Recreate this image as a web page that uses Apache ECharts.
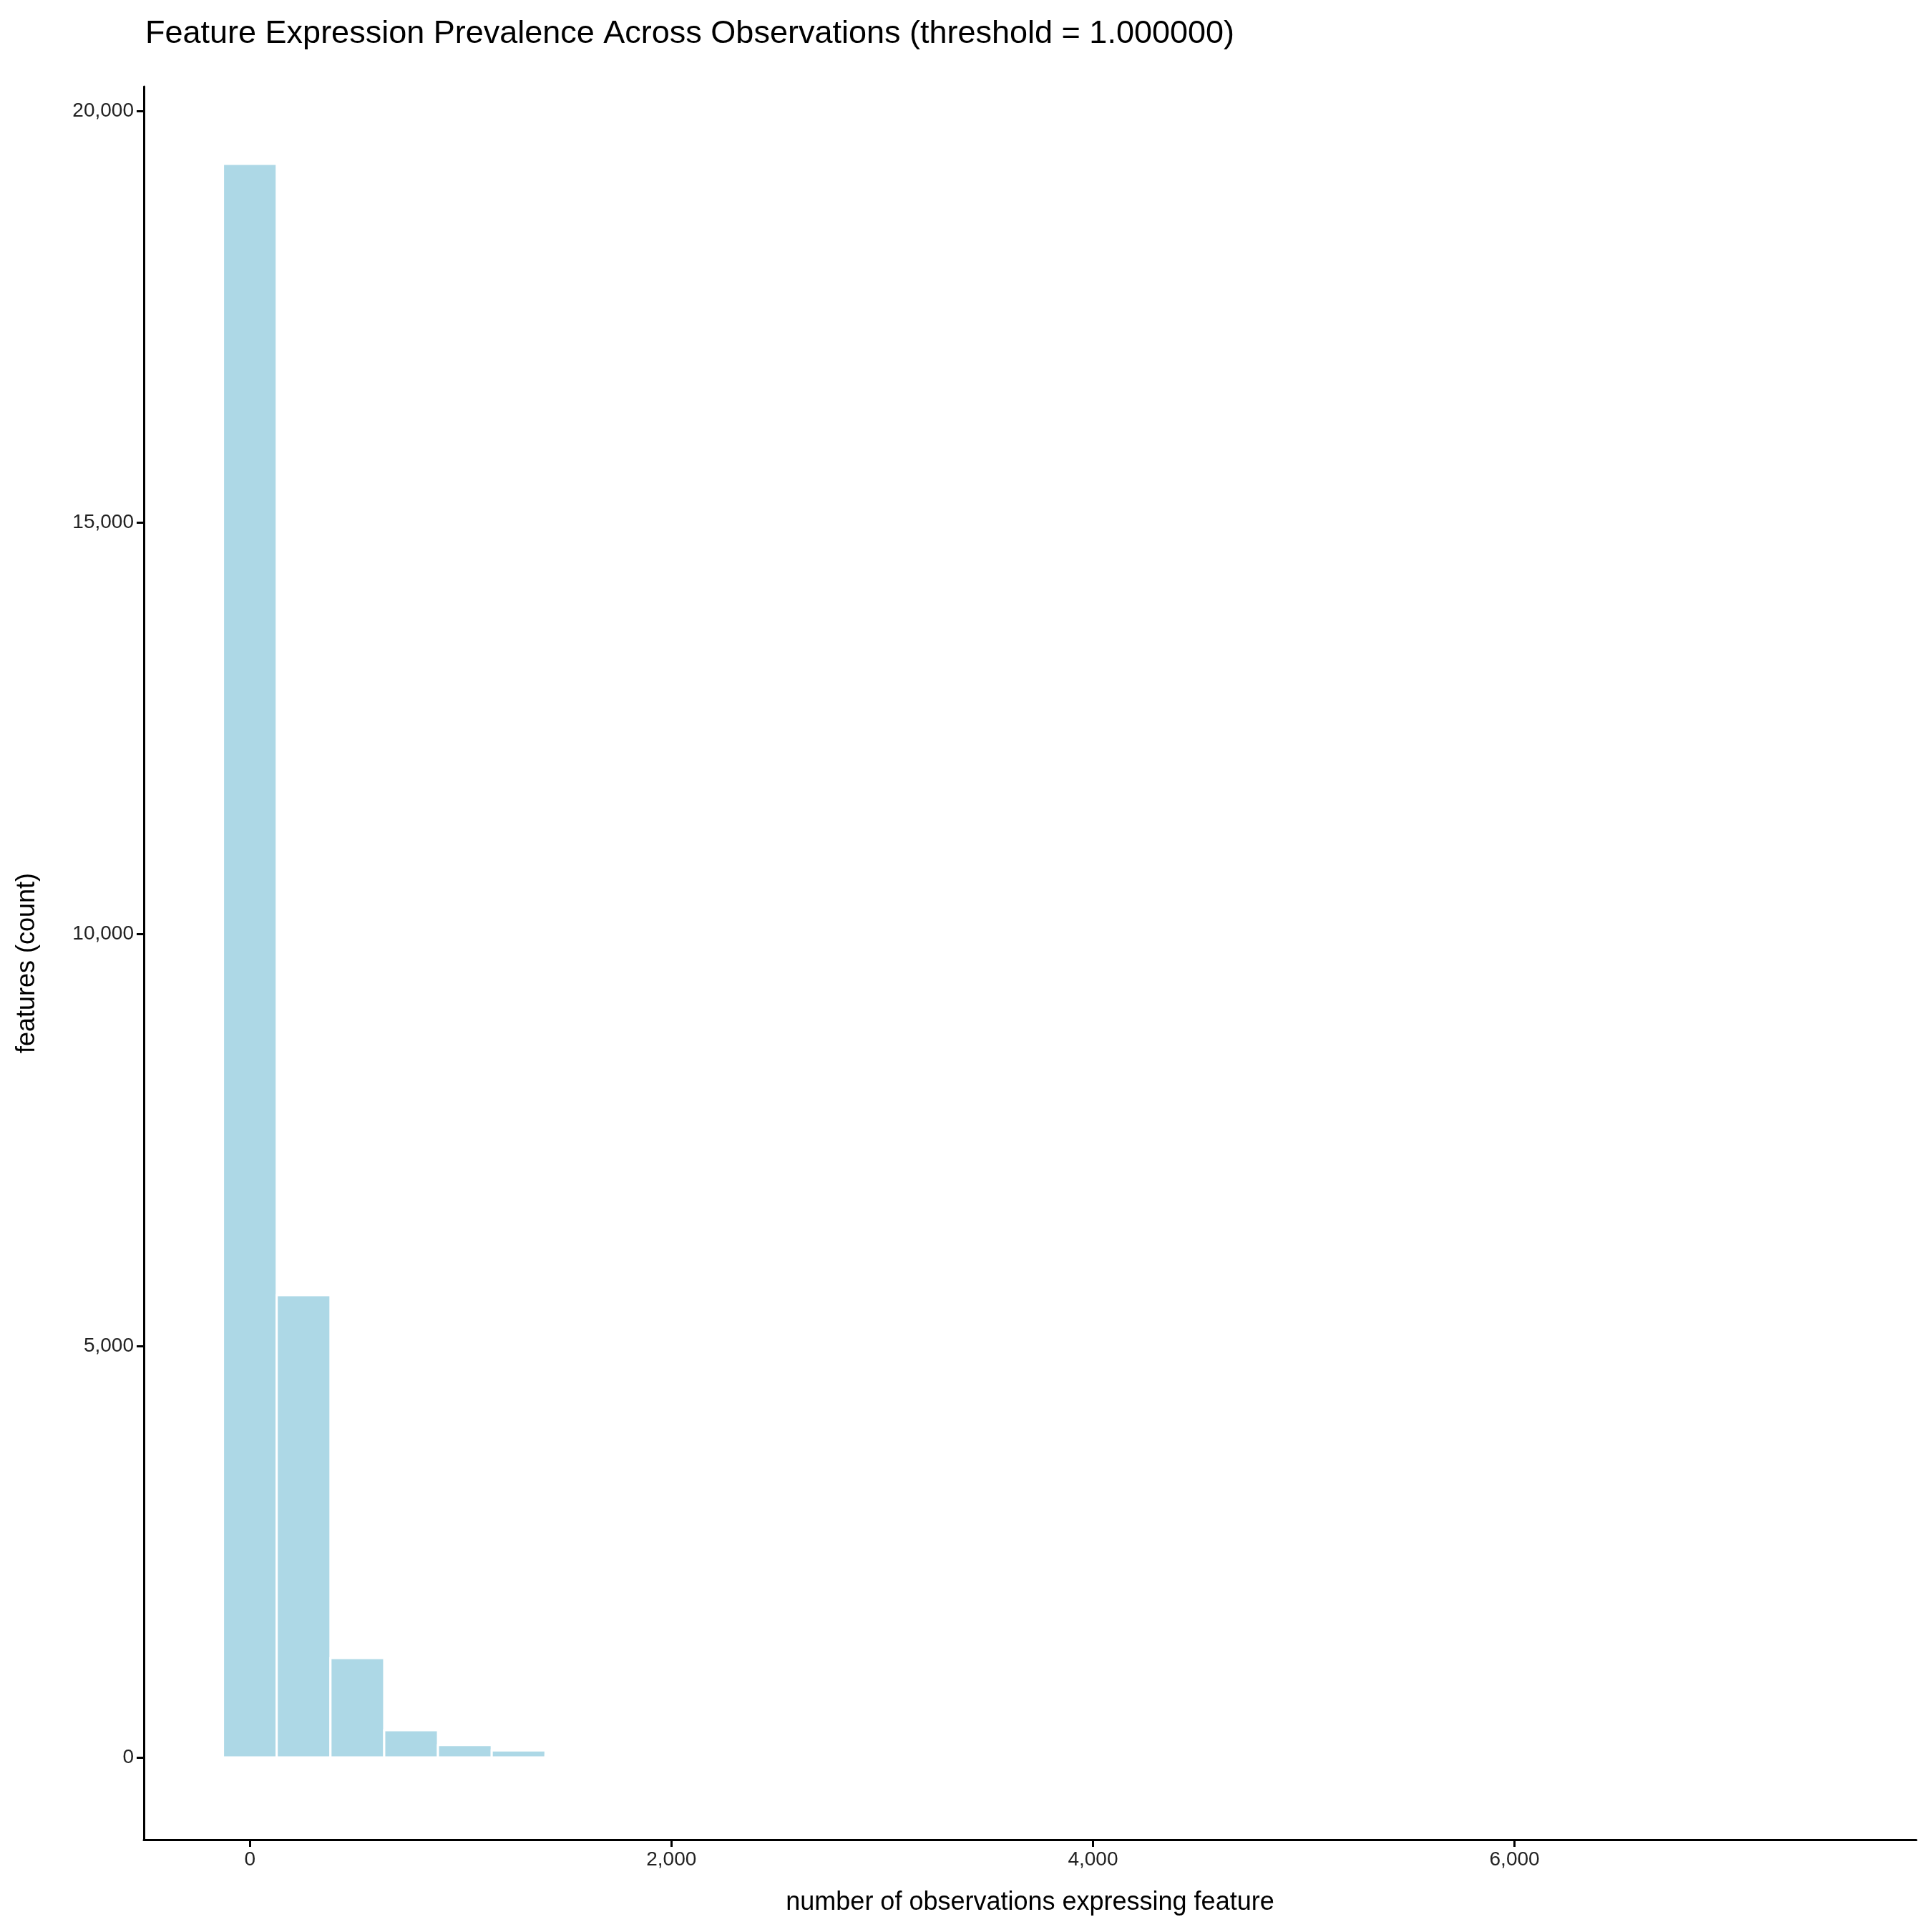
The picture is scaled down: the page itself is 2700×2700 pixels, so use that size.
<!DOCTYPE html>
<html>
<head>
<meta charset="utf-8">
<script src="https://cdn.jsdelivr.net/npm/echarts@6/dist/echarts.min.js"></script>
<style>
  html, body { margin: 0; padding: 0; background: #fff; }
  #chart { width: 2700px; height: 2700px; }
</style>
</head>
<body>
<div id="chart"></div>
<script>
// histogram bins: centers and counts (binwidth ~255)
const binWidth = 255;
const binCenters = [0, 255, 510, 765, 1020, 1275, 1530, 1785, 2040, 2295, 2550, 2805, 3060, 3315, 3570, 3825, 4080, 4335, 4590, 4845, 5100, 5355, 5610, 5865, 6120, 6375, 6630, 6885, 7140, 7395];
const binCounts = [19360, 5615, 1205, 330, 150, 85, 22, 8, 4, 3, 2, 1, 1, 0, 1, 0, 0, 0, 0, 0, 0, 0, 0, 0, 0, 0, 0, 0, 0, 1];
const xTicks = [0, 2000, 4000, 6000];
const yTicks = [0, 5000, 10000, 15000, 20000];

const font = 'Liberation Sans, Helvetica, Arial, sans-serif';
const chart = echarts.init(document.getElementById('chart'));

chart.setOption({
    animation: false,
    backgroundColor: '#ffffff',
    title: {
        text: 'Feature Expression Prevalence Across Observations (threshold = 1.000000)',
        left: 198,
        top: 20,
        textStyle: { fontFamily: font, fontSize: 45, fontWeight: 'normal', color: '#000' }
    },
    grid: { left: 201, right: 22, top: 121, bottom: 129 },
    xAxis: {
        type: 'value',
        min: -503,
        max: 7906,
        name: 'number of observations expressing feature',
        nameLocation: 'middle',
        nameGap: 70,
        nameTextStyle: { fontFamily: font, fontSize: 36, color: '#000' },
        splitLine: { show: false },
        axisLine: { onZero: false, lineStyle: { color: '#000', width: 3 } },
        axisTick: { show: true, customValues: xTicks, length: 10, lineStyle: { color: '#000', width: 3 } },
        axisLabel: { customValues: xTicks, fontFamily: font, fontSize: 28, color: '#222', margin: 14 }
    },
    yAxis: {
        type: 'value',
        min: -1000,
        max: 20300,
        name: 'features (count)',
        nameLocation: 'middle',
        nameGap: 145,
        nameTextStyle: { fontFamily: font, fontSize: 36, color: '#000' },
        splitLine: { show: false },
        axisLine: { show: true, onZero: false, lineStyle: { color: '#000', width: 3 } },
        axisTick: { show: true, customValues: yTicks, length: 10, lineStyle: { color: '#000', width: 3 } },
        axisLabel: { customValues: yTicks, fontFamily: font, fontSize: 28, color: '#222', margin: 14 }
    },
    series: [{
        type: 'custom',
        data: binCenters.map((c, i) => [c, binCounts[i]]),
        renderItem: function (params, api) {
            const c = api.value(0);
            const v = api.value(1);
            const p0 = api.coord([c - binWidth / 2, 0]);
            const p1 = api.coord([c + binWidth / 2, v]);
            return {
                type: 'rect',
                shape: { x: p0[0], y: p1[1], width: p1[0] - p0[0], height: p0[1] - p1[1] },
                style: { fill: '#add8e6', stroke: '#ffffff', lineWidth: 3 }
            };
        }
    }]
});
</script>
</body>
</html>
